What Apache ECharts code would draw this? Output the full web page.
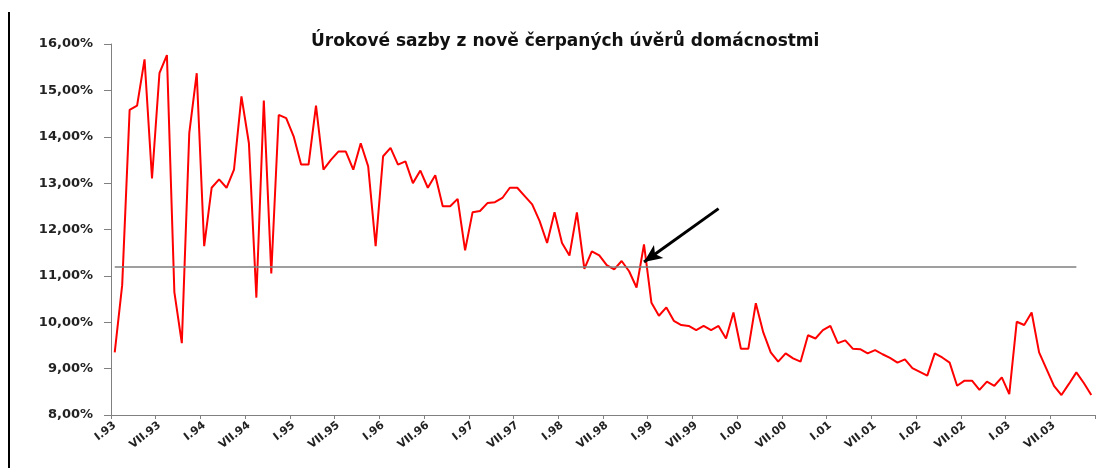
<!DOCTYPE html>
<html>
<head>
<meta charset="utf-8">
<script src="https://cdn.jsdelivr.net/npm/echarts@6/dist/echarts.min.js"></script>
<style>
html,body{margin:0;padding:0;background:#fff;}
#chart{width:1101px;height:468px;}
</style>
</head>
<body>
<div id="chart"></div>
<script>
var titleText = 'Úrokové sazby z nově čerpaných úvěrů domácnostmi';
var monthNames = ['I','II','III','IV','V','VI','VII','VIII','IX','X','XI','XII'];
var years = ['93','94','95','96','97','98','99','00','01','02','03'];
var categories = [];
years.forEach(function (y) { monthNames.forEach(function (m) { categories.push(m + '.' + y); }); });

var rates = [
  9.35, 10.8, 14.58, 14.67, 15.67, 13.10, 15.37, 15.76, 10.65, 9.55, 14.08, 15.37,
  11.64, 12.90, 13.08, 12.90, 13.29, 14.87, 13.86, 10.53, 14.78, 11.05, 14.47, 14.40,
  14.01, 13.40, 13.40, 14.67, 13.29, 13.50, 13.68, 13.68, 13.29, 13.86, 13.36, 11.64,
  13.58, 13.76, 13.40, 13.47, 13.00, 13.27, 12.90, 13.17, 12.50, 12.50, 12.66, 11.55,
  12.37, 12.40, 12.57, 12.59, 12.68, 12.90, 12.90, 12.72, 12.54, 12.18, 11.71, 12.37,
  11.71, 11.44, 12.37, 11.15, 11.53, 11.44, 11.23, 11.14, 11.32, 11.10, 10.75, 11.68,
  10.42, 10.14, 10.32, 10.03, 9.94, 9.92, 9.83, 9.92, 9.83, 9.92, 9.65, 10.21,
  9.43, 9.43, 10.41, 9.78, 9.35, 9.15, 9.33, 9.22, 9.15, 9.72, 9.65, 9.83,
  9.92, 9.55, 9.61, 9.43, 9.42, 9.33, 9.40, 9.31, 9.23, 9.13, 9.20, 9.01,
  8.93, 8.85, 9.33, 9.24, 9.13, 8.63, 8.74, 8.74, 8.54, 8.72, 8.63, 8.81,
  8.45, 10.01, 9.94, 10.21, 9.35, 8.99, 8.63, 8.43, 8.67, 8.92, 8.69, 8.43
];

// reference horizontal level line (start category, end category, value)
var refLineCats = ['I.93', 'X.03'];
var refLineValue = 11.2;
// annotation arrow: tail -> head [category, value]
var arrowTail = ['X.99', 12.45];
var arrowHead = ['XII.98', 11.3];

var yMin = 8, yMax = 16, yStep = 1;

var chart = echarts.init(document.getElementById('chart'), null, {renderer: 'canvas'});
var font = 'DejaVu Sans';
chart.setOption({
  backgroundColor: '#ffffff',
  animation: false,
  title: {
    text: titleText,
    left: 306,
    top: 28,
    textStyle: {fontFamily: font, fontWeight: 'bold', fontSize: 17, color: '#111'}
  },
  graphic: [{
    type: 'line',
    shape: {x1: 9, y1: 12, x2: 9, y2: 468},
    style: {stroke: '#000', lineWidth: 2}
  }],
  grid: {left: 111, right: 6, top: 44, bottom: 53, containLabel: false},
  xAxis: {
    type: 'category',
    data: categories,
    boundaryGap: true,
    axisLine: {lineStyle: {color: '#808080', width: 1}},
    axisTick: {show: true, interval: 5, length: 4, lineStyle: {color: '#808080'}},
    axisLabel: {
      interval: 5,
      rotate: 38,
      margin: 9,
      fontFamily: font,
      fontWeight: 'bold',
      fontSize: 11,
      color: '#222'
    },
    splitLine: {show: false}
  },
  yAxis: {
    type: 'value',
    min: yMin,
    max: yMax,
    interval: yStep,
    axisLine: {show: true, lineStyle: {color: '#808080', width: 1}},
    axisTick: {show: true, length: 7, inside: false, lineStyle: {color: '#808080'}},
    axisLabel: {
      margin: 18,
      fontFamily: font,
      fontWeight: 'bold',
      fontSize: 13,
      color: '#222',
      formatter: function (v) { return v.toFixed(2).replace('.', ',') + '%'; }
    },
    splitLine: {show: false}
  },
  series: [{
    type: 'line',
    data: rates,
    showSymbol: false,
    symbol: 'none',
    lineStyle: {color: '#ff0000', width: 2},
    itemStyle: {color: '#ff0000'},
    markLine: {
      silent: true,
      animation: false,
      label: {show: false},
      data: [
        [
          {coord: [refLineCats[0], refLineValue], symbol: 'none', lineStyle: {color: '#7f7f7f', width: 1.5, type: 'solid'}},
          {coord: [refLineCats[1], refLineValue], symbol: 'none'}
        ],
        [
          {coord: arrowTail, symbol: 'none', lineStyle: {color: '#000000', width: 3, type: 'solid'}},
          {coord: arrowHead, symbol: 'arrow', symbolSize: [12, 18]}
        ]
      ]
    }
  }]
});
</script>
</body>
</html>
